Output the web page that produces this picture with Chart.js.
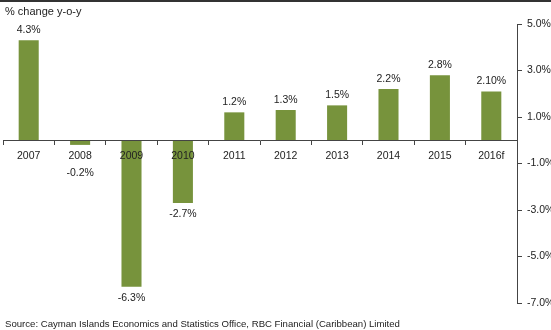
<!DOCTYPE html>
<html>
<head>
<meta charset="utf-8">
<script src="https://cdn.jsdelivr.net/npm/chart.js@4/dist/chart.umd.min.js"></script>
<style>
  body { margin: 0; background: #fff; }
  #wrap { position: relative; width: 551px; height: 330px; overflow: hidden;
          font-family: "Liberation Sans", Arial, sans-serif; color: #222; }
  #topline { position: absolute; left: 0; top: 0; width: 551px; height: 2px; background: #333; }
  #title { position: absolute; left: 5px; top: 5px; font-size: 11px; }
  #source { position: absolute; left: 5px; top: 318px; font-size: 9.6px; }
  canvas { position: absolute; left: 0; top: 0; }
</style>
</head>
<body>
<div id="wrap">
  <canvas id="chart" width="551" height="330"></canvas>
  <div id="topline"></div>
  <div id="title">% change y-o-y</div>
  <div id="source">Source: Cayman Islands Economics and Statistics Office, RBC Financial (Caribbean) Limited</div>
</div>
<script>
// chart data
const years = ["2007", "2008", "2009", "2010", "2011", "2012", "2013", "2014", "2015", "2016f"];
const growth = [4.3, -0.2, -6.3, -2.7, 1.2, 1.3, 1.5, 2.2, 2.8, 2.1];
const valueLabels = ["4.3%", "-0.2%", "-6.3%", "-2.7%", "1.2%", "1.3%", "1.5%", "2.2%", "2.8%", "2.10%"];
const yMin = -7;
const yMax = 5;
const yStep = 2;

const FONT = "Liberation Sans, Arial, sans-serif";
const TEXT = "#222";
const AXIS = "#444";

// value labels above / below the bars
const barLabels = {
  id: "barLabels",
  afterDraw(chart) {
    const ctx = chart.ctx;
    const meta = chart.getDatasetMeta(0);
    const zeroY = chart.scales.y.getPixelForValue(0);
    ctx.save();
    ctx.font = "10.5px " + FONT;
    ctx.fillStyle = TEXT;
    ctx.textAlign = "center";
    ctx.textBaseline = "middle";
    meta.data.forEach((bar, i) => {
      let y;
      if (growth[i] >= 0) {
        y = bar.y - 10;
      } else {
        y = Math.max(bar.y + 11, zeroY + 33);
      }
      ctx.fillText(valueLabels[i], bar.x, y);
    });
    ctx.restore();
  }
};

new Chart(document.getElementById("chart"), {
  type: "bar",
  data: {
    labels: years,
    datasets: [{
      data: growth,
      backgroundColor: "#77933c",
      barPercentage: 0.39,
      categoryPercentage: 1
    }]
  },
  options: {
    responsive: false,
    animation: false,
    layout: { padding: { left: 3, top: 24, bottom: 27, right: 0 } },
    plugins: {
      legend: { display: false },
      tooltip: { enabled: false }
    },
    scales: {
      x: {
        position: { y: 0 },
        offset: true,
        grid: {
          offset: true,
          drawOnChartArea: false,
          drawTicks: true,
          tickLength: 4,
          color: AXIS,
          z: 1
        },
        border: { color: AXIS, width: 1, z: 1 },
        ticks: {
          color: TEXT,
          padding: 6,
          maxRotation: 0,
          z: 1,
          font: { family: FONT, size: 10.5 }
        }
      },
      y: {
        position: "right",
        min: yMin,
        max: yMax,
        afterFit(scale) { scale.width = 34; },
        grid: {
          drawOnChartArea: false,
          drawTicks: true,
          tickLength: 5,
          color: AXIS
        },
        border: { color: AXIS, width: 1 },
        ticks: {
          stepSize: yStep,
          color: TEXT,
          padding: 5,
          font: { family: FONT, size: 10.5 },
          callback: v => v.toFixed(1) + "%"
        }
      }
    }
  },
  plugins: [barLabels]
});
</script>
</body>
</html>
